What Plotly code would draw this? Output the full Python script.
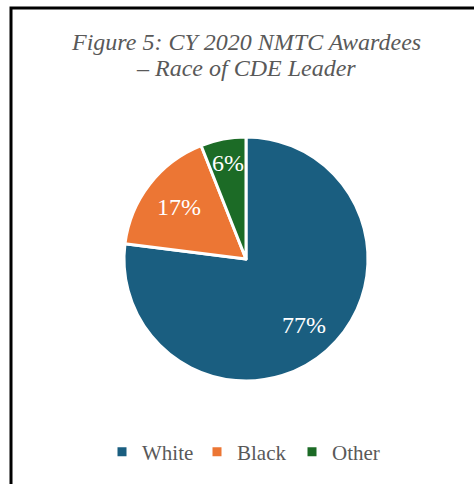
import math
import plotly.graph_objects as go

categories = ["White", "Black", "Other"]
shares = [77, 17, 6]
slice_colors = ["#1a5e80", "#ec7634", "#1c6b26"]
# how far out (as a fraction of the radius) each percentage label sits
label_radius = [0.72, 0.70, 0.80]

W, H = 474, 484
serif = "Liberation Serif"

# pie geometry in pixels
cx, cy, r = 246, 259, 122

fig = go.Figure(
    go.Pie(
        labels=categories,
        values=shares,
        sort=False,
        direction="clockwise",
        rotation=0,
        marker=dict(colors=slice_colors, line=dict(color="white", width=3)),
        textinfo="none",
        hoverinfo="label+percent",
        domain=dict(x=[(cx - r) / W, (cx + r) / W], y=[(H - cy - r) / H, (H - cy + r) / H]),
    )
)

# percentage labels at each slice's mid-angle (clockwise from 12 o'clock)
total = sum(shares)
cum = 0
for v, f in zip(shares, label_radius):
    mid = (cum + v / 2) / total * 2 * math.pi
    cum += v
    px = cx + f * r * math.sin(mid)
    py = cy - f * r * math.cos(mid)
    fig.add_annotation(
        text=f"{v}%", x=px / W, y=1 - py / H, xref="paper", yref="paper",
        showarrow=False, xanchor="center", yanchor="middle",
        font=dict(family=serif, size=24, color="white"),
    )

title_lines = ["Figure 5: CY 2020 NMTC Awardees", "– Race of CDE Leader"]
for line, ypx in zip(title_lines, [42, 68]):
    fig.add_annotation(
        text=f"<i>{line}</i>",
        x=246 / W, y=1 - ypx / H, xref="paper", yref="paper",
        showarrow=False, xanchor="center", yanchor="middle",
        font=dict(family=serif, size=24, color="#595959"),
    )

# frame around the figure
fig.add_shape(
    type="rect", xref="paper", yref="paper",
    x0=11 / W, x1=1.05, y0=-0.05, y1=1 - 8 / H,
    line=dict(color="black", width=3),
)

fig.update_layout(
    width=W, height=H,
    margin=dict(l=0, r=0, t=0, b=0),
    paper_bgcolor="white",
    plot_bgcolor="white",
    showlegend=True,
    legend=dict(
        orientation="h",
        x=102 / W, xanchor="left",
        y=1 - 452 / H, yanchor="middle",
        font=dict(family=serif, size=21, color="#595959"),
        itemwidth=30,
        entrywidth=50,
    ),
)

fig.write_html("out.html")
